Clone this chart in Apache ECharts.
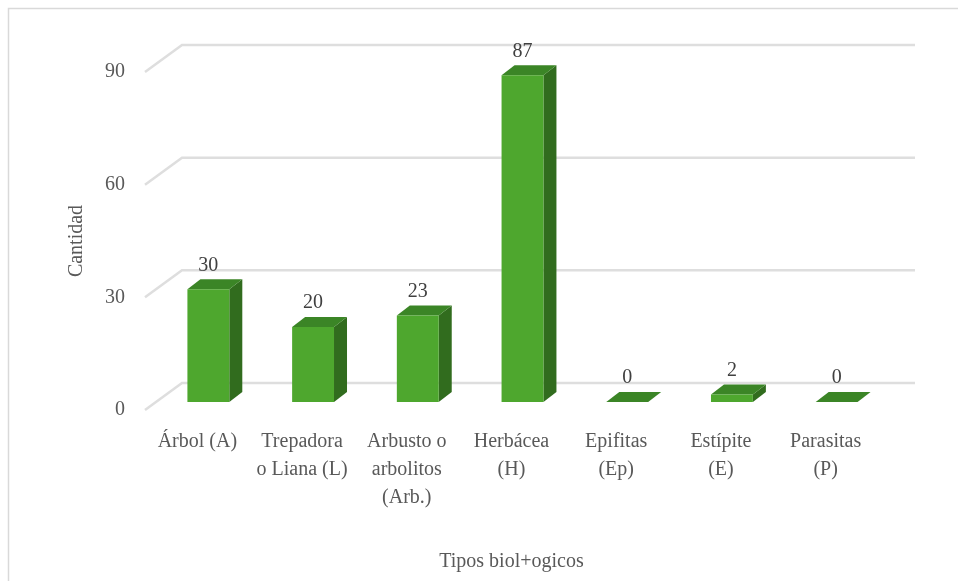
<!DOCTYPE html>
<html>
<head>
<meta charset="utf-8">
<script src="https://cdn.jsdelivr.net/npm/echarts@6/dist/echarts.min.js"></script>
<style>
  html, body { margin: 0; padding: 0; background: #fff; }
  #chart { width: 958px; height: 581px; }
</style>
</head>
<body>
<div id="chart"></div>
<script>
// datos
const categories = ['Árbol (A)', 'Trepadora o Liana (L)', 'Arbusto o arbolitos (Arb.)', 'Herbácea (H)', 'Epifitas (Ep)', 'Estípite (E)', 'Parasitas (P)'];
const categoryLabels = ['Árbol (A)', 'Trepadora\no Liana (L)', 'Arbusto o\narbolitos\n(Arb.)', 'Herbácea\n(H)', 'Epifitas\n(Ep)', 'Estípite\n(E)', 'Parasitas\n(P)'];
const cantidad = [30, 20, 23, 87, 0, 2, 0];
const yTicks = [0, 30, 60, 90];

const font = '"Liberation Serif", "DejaVu Serif", serif';
const textColor = '#595959';

// profundidad de la caja 3D (pared del fondo respecto al plano frontal)
const depth = [37, -27];
const barFront = [11, -8];
const barBack = [24, -18];

const colors = {
  front: '#4ea72e',
  side: '#316c1e',
  top: '#3b8526',
  grid: '#dedede'
};

const chart = echarts.init(document.getElementById('chart'));

function shift(p, d) {
  return [p[0] + d[0], p[1] + d[1]];
}

function renderGrid(params, api) {
  const v = api.value(0);
  const p = api.coord([0, v]);
  const cs = params.coordSys;
  const left = [cs.x, p[1]];
  const back = shift(left, depth);
  const right = [cs.x + cs.width + depth[0], p[1] + depth[1]];
  return {
    type: 'polyline',
    shape: { points: [left, back, right] },
    style: { stroke: colors.grid, lineWidth: 2.5, fill: null },
    silent: true
  };
}

function renderBar(params, api) {
  const idx = api.value(0);
  const val = api.value(1);
  const base = api.coord([idx, 0]);
  const topPt = api.coord([idx, val]);
  const w = api.size([1, 0])[0] * 0.4;
  const x0 = base[0] - w / 2 + barFront[0];
  const x1 = base[0] + w / 2 + barFront[0];
  const yb = base[1] + barFront[1];
  const yt = topPt[1] + barFront[1];
  const dx = barBack[0] - barFront[0];
  const dy = barBack[1] - barFront[1];
  const children = [];
  // cara lateral
  children.push({
    type: 'polygon',
    shape: { points: [[x1, yb], [x1 + dx, yb + dy], [x1 + dx, yt + dy], [x1, yt]] },
    style: { fill: colors.side }
  });
  // cara superior
  children.push({
    type: 'polygon',
    shape: { points: [[x0, yt], [x1, yt], [x1 + dx, yt + dy], [x0 + dx, yt + dy]] },
    style: { fill: colors.top }
  });
  // cara frontal
  if (yb - yt > 0.5) {
    children.push({
      type: 'rect',
      shape: { x: x0, y: yt, width: x1 - x0, height: yb - yt },
      style: { fill: colors.front }
    });
  }
  children.push({
    type: 'text',
    style: {
      text: String(val),
      x: (x0 + x1) / 2,
      y: yt - 24,
      align: 'center',
      verticalAlign: 'middle',
      font: '20px ' + font,
      fill: '#404040'
    }
  });
  return { type: 'group', children: children };
}

const option = {
  backgroundColor: '#fff',
  animation: false,
  graphic: [{
    type: 'rect',
    shape: { x: 8.5, y: 8.5, width: 1000, height: 1000 },
    style: { fill: null, stroke: '#d9d9d9', lineWidth: 1.5 },
    silent: true
  }],
  grid: { left: 145, top: 72, width: 733, height: 338, containLabel: false, outerBoundsMode: 'none' },
  xAxis: {
    type: 'category',
    data: categories,
    axisLine: { show: false },
    axisTick: { show: false },
    splitLine: { show: false },
    axisLabel: {
      interval: 0,
      margin: 18,
      color: textColor,
      fontFamily: font,
      fontSize: 20,
      lineHeight: 28,
      formatter: (v, i) => categoryLabels[i]
    },
    name: 'Tipos biol+ogicos',
    nameLocation: 'middle',
    nameGap: 142,
    nameTextStyle: { color: textColor, fontFamily: font, fontSize: 20 }
  },
  yAxis: {
    type: 'value',
    min: 0,
    max: 90,
    interval: 30,
    axisLine: { show: false },
    axisTick: { show: false },
    splitLine: { show: false },
    axisLabel: { margin: 20, color: textColor, fontFamily: font, fontSize: 20 },
    name: 'Cantidad',
    nameLocation: 'middle',
    nameGap: 58,
    nameTextStyle: { color: textColor, fontFamily: font, fontSize: 20 }
  },
  series: [
    {
      type: 'custom',
      name: 'grid',
      renderItem: renderGrid,
      data: yTicks.map(v => [v]),
      encode: { y: 0 },
      silent: true,
      z: 1
    },
    {
      type: 'custom',
      name: 'Cantidad',
      renderItem: renderBar,
      data: cantidad.map((v, i) => [i, v]),
      encode: { x: 0, y: 1 },
      z: 2
    }
  ]
};

chart.setOption(option);
</script>
</body>
</html>
